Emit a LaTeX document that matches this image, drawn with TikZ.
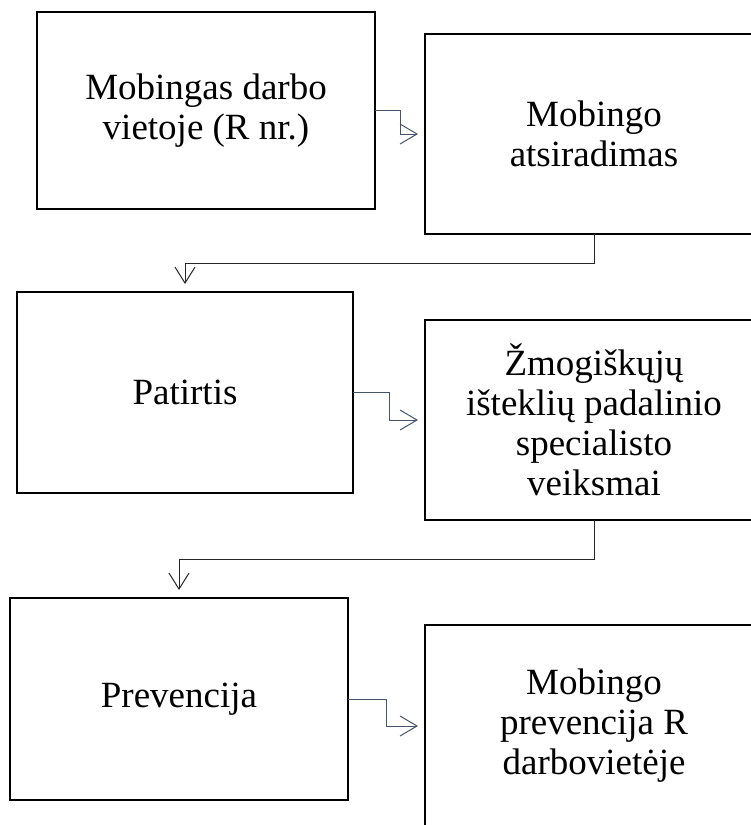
\documentclass[tikz,border=0pt]{standalone}
\usepackage{fontspec}
\setmainfont{Liberation Serif}
\usetikzlibrary{arrows.meta}
\definecolor{conblue}{RGB}{68,84,106}
\definecolor{condark}{RGB}{38,38,38}
\begin{document}
\begin{tikzpicture}[x=1pt,y=-1pt,
  box/.style={draw=black,line width=2.4pt,fill=white,align=center,
    inner sep=0pt,outer sep=0pt,
    font=\fontsize{37}{40}\selectfont},
  hcon/.style={draw=conblue,line width=1pt,
    -{Straight Barb[length=17pt,width=20pt,line width=1pt]},shorten >=7pt},
  vcon/.style={draw=condark,line width=1pt,
    -{Straight Barb[length=16pt,width=20pt,line width=1pt]},shorten >=8pt}]
\useasboundingbox (0,0) rectangle (751,825);
\clip (0,0) rectangle (751,825);
\node[box,minimum width=338pt,minimum height=197pt] (b1) at (206,110.5)
  {Mobingas darbo\\vietoje (R nr.)};
\node[box,minimum width=338pt,minimum height=200pt] (b2) at (594,134)
  {Mobingo\\atsiradimas};
\node[box,minimum width=336pt,minimum height=201pt] (b3) at (185,392.5)
  {Patirtis};
\node[box,minimum width=338pt,minimum height=200pt] (b4) at (594,420)
  {Žmogiškųjų\\išteklių padalinio\\specialisto\\veiksmai};
\node[box,minimum width=338pt,minimum height=202pt] (b5) at (179,699)
  {Prevencija};
\node[box,minimum width=338pt,minimum height=202pt] (b6) at (594,726)
  {Mobingo\\prevencija R\\darbovietėje};
\draw[hcon] (b1.east) -- ++(25,0) |- (b2.west);
\draw[vcon] (b2.south) -- ++(0,29) -| (b3.north);
\draw[hcon] (b3.east) -- ++(36,0) |- (b4.west);
\draw[vcon] (b4.south) -- ++(0,39) -| (b5.north);
\draw[hcon] (b5.east) -- ++(38,0) |- (b6.west);
\end{tikzpicture}
\end{document}
